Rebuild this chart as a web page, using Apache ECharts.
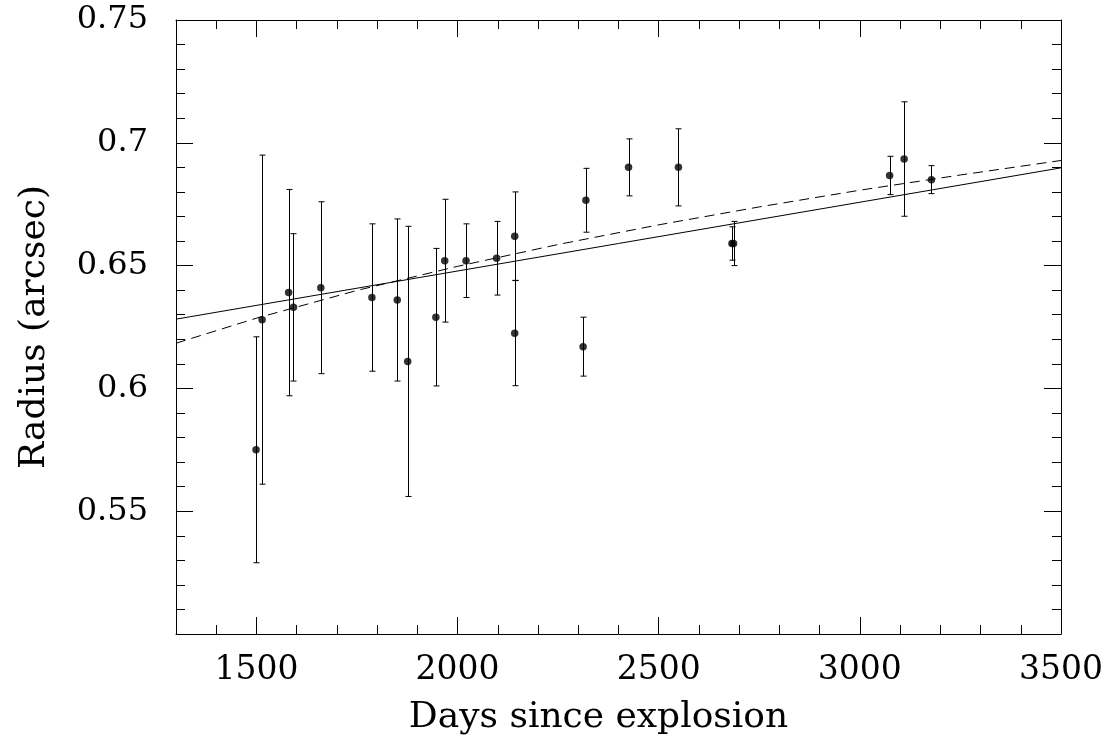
<!DOCTYPE html>
<html>
<head>
<meta charset="utf-8">
<script src="https://cdn.jsdelivr.net/npm/echarts@6/dist/echarts.min.js"></script>
<style>
html,body{margin:0;padding:0;background:#fff;}
#chart{width:1108px;height:738px;}
</style>
</head>
<body>
<div id="chart"></div>
<script>
// Observations
const days   = [1499, 1514, 1580, 1592, 1660, 1787, 1850, 1876, 1946, 1968, 2021, 2097, 2142, 2142, 2312, 2319, 2425, 2549, 2682, 2686, 3074, 3110, 3178];
const radius = [0.575, 0.628, 0.639, 0.633, 0.641, 0.637, 0.636, 0.611, 0.629, 0.652, 0.652, 0.653, 0.662, 0.6225, 0.617, 0.6766, 0.690, 0.690, 0.659, 0.659, 0.6867, 0.6934, 0.685];
const errors = [0.046, 0.067, 0.042, 0.030, 0.035, 0.030, 0.033, 0.055, 0.028, 0.025, 0.015, 0.015, 0.018, 0.0214, 0.012, 0.013, 0.0116, 0.0157, 0.0068, 0.009, 0.0078, 0.0233, 0.0057];
// Fits
const solidFitDays   = [1300, 3500];
const solidFitRadius = [0.6282, 0.6898];
const dashedFitDays   = [1300, 1500, 1750, 2000, 2250, 2500, 2750, 3000, 3250, 3500];
const dashedFitRadius = [0.6184, 0.6286, 0.6399, 0.6497, 0.6586, 0.6666, 0.6739, 0.6807, 0.6869, 0.6928];
// Axes
const xMin = 1300, xMax = 3500, xMinorStep = 100, xMajorStep = 500;
const yMin = 0.5, yMax = 0.75, yMajorStep = 0.05;
const xTitle = 'Days since explosion';
const yTitle = 'Radius (arcsec)';

const FONT = 'DejaVu Serif';
const pts = days.map((d, i) => [d, radius[i], errors[i]]);
const solid = solidFitDays.map((d, i) => [d, solidFitRadius[i]]);
const dashed = dashedFitDays.map((d, i) => [d, dashedFitRadius[i]]);

const lineBlack = {color: '#000', width: 1};
function xAxisDef(pos, major, labels) {
  const a = {
    type: 'value', position: pos, min: xMin, max: xMax,
    axisLine: {show: !major, onZero: false, lineStyle: lineBlack},
    axisTick: {show: true, inside: true, length: major ? 17 : 9, lineStyle: lineBlack},
    splitLine: {show: false},
    axisLabel: {show: false}
  };
  if (major) { a.minInterval = xMajorStep; a.maxInterval = xMajorStep; }
  else { a.interval = xMinorStep; }
  if (labels) {
    a.axisLabel = {
      show: true, margin: 20, color: '#000', fontFamily: FONT, fontSize: 33,
      formatter: v => (Math.abs(v % xMajorStep) < 1e-6 ? String(v) : '')
    };
    a.name = xTitle; a.nameLocation = 'middle'; a.nameGap = 66;
    a.nameTextStyle = {color: '#000', fontFamily: FONT, fontSize: 36, padding: [0, 40, 0, 0]};
  }
  return a;
}
function yAxisDef(pos, labels) {
  const a = {
    type: 'value', position: pos, min: yMin, max: yMax, interval: yMajorStep,
    axisLine: {show: true, onZero: false, lineStyle: lineBlack},
    axisTick: {show: true, inside: true, length: 17, lineStyle: lineBlack},
    minorTick: {show: true, splitNumber: 5, length: 9, lineStyle: lineBlack},
    splitLine: {show: false},
    axisLabel: {show: false}
  };
  if (labels) {
    a.axisLabel = {
      show: true, margin: 28, color: '#000', fontFamily: FONT, fontSize: 32,
      formatter: v => (Math.abs(v - yMin) < 1e-9 ? '' : String(parseFloat(v.toFixed(2))))
    };
    a.name = yTitle; a.nameLocation = 'middle'; a.nameGap = 123; a.nameRotate = 90;
    a.nameTextStyle = {color: '#000', fontFamily: FONT, fontSize: 36};
  }
  return a;
}

const chart = echarts.init(document.getElementById('chart'), null, {renderer: 'canvas'});
chart.setOption({
  backgroundColor: '#fff',
  animation: false,
  grid: {left: 176, top: 20, right: 47, bottom: 104, containLabel: false, outerBoundsMode: 'none'},
  xAxis: [xAxisDef('bottom', false, true), xAxisDef('bottom', true, false), xAxisDef('top', false, false), xAxisDef('top', true, false)],
  yAxis: [yAxisDef('left', true), yAxisDef('right', false)],
  series: [
    {
      type: 'custom', xAxisIndex: 0, yAxisIndex: 0, data: pts, clip: true,
      renderItem: function (params, api) {
        const x = api.value(0), y = api.value(1), e = api.value(2);
        const top = api.coord([x, y + e]);
        const bot = api.coord([x, y - e]);
        const cx = Math.round(top[0]) + 0.5;
        const st = {stroke: '#000', lineWidth: 1};
        return {type: 'group', children: [
          {type: 'line', shape: {x1: cx, y1: top[1], x2: cx, y2: bot[1]}, style: st},
          {type: 'line', shape: {x1: cx - 3, y1: top[1], x2: cx + 3, y2: top[1]}, style: st},
          {type: 'line', shape: {x1: cx - 3, y1: bot[1], x2: cx + 3, y2: bot[1]}, style: st}
        ]};
      }
    },
    {type: 'scatter', data: pts.map(p => [p[0], p[1]]), symbol: 'circle', symbolSize: 7.5,
     itemStyle: {color: '#000'}, z: 5},
    {type: 'line', data: solid, showSymbol: false, lineStyle: {color: '#000', width: 1, type: 'solid'}},
    {type: 'line', data: dashed, showSymbol: false, lineStyle: {color: '#000', width: 1, type: [10, 6]}}
  ]
});
</script>
</body>
</html>
